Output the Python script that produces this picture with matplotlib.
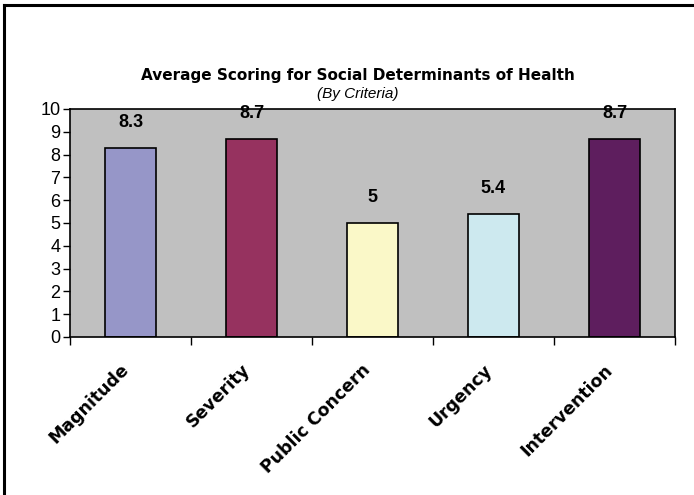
import matplotlib.pyplot as plt
from matplotlib.lines import Line2D

plt.rcParams['font.family'] = ['Liberation Sans', 'DejaVu Sans']

categories = ['Magnitude', 'Severity', 'Public Concern', 'Urgency', 'Intervention']
scores = [8.3, 8.7, 5, 5.4, 8.7]
score_labels = ['8.3', '8.7', '5', '5.4', '8.7']
bar_colors = ['#9696C8', '#96325F', '#FAF8C8', '#CDE9EF', '#5E1E5E']

fig = plt.figure(figsize=(6.94, 4.95), dpi=100)
ax = fig.add_axes([0.1009, 0.3192, 0.8717, 0.4606])
ax.set_facecolor('#C0C0C0')

x = range(len(categories))
ax.bar(x, scores, width=0.42, color=bar_colors, edgecolor='black', linewidth=1.2, zorder=2)

for i, (v, lab) in enumerate(zip(scores, score_labels)):
    ax.text(i, v + 1.1, lab, ha='center', va='center', fontsize=13,
            fontweight='bold', zorder=3)

ax.set_xlim(-0.5, len(categories) - 0.5)
ax.set_ylim(0, 10)
ax.set_yticks(range(0, 11))
ax.tick_params(axis='y', labelsize=13, length=5, width=1, direction='out', pad=2)

# ticks between the categories, labels at the centres
ax.set_xticks([i - 0.5 for i in range(len(categories) + 1)])
ax.set_xticklabels([])
ax.tick_params(axis='x', which='major', length=6, width=1, direction='out')
ax.set_xticks([i - 0.09 for i in x], minor=True)
ax.set_xticklabels(categories, minor=True, rotation=45, ha='right',
                   rotation_mode='anchor', fontsize=12.5, fontweight='bold',
                   family='DejaVu Sans')
ax.tick_params(axis='x', which='minor', length=0, pad=17)

for side in ['left', 'bottom', 'top', 'right']:
    ax.spines[side].set_linewidth(1.2)
    ax.spines[side].set_color('black')

fig.text(0.516, 0.848, 'Average Scoring for Social Determinants of Health',
         ha='center', va='center', fontsize=11, fontweight='bold',
         family='DejaVu Sans')
fig.text(0.516, 0.811, '(By Criteria)', ha='center', va='center',
         fontsize=11, style='italic')

# outer frame (only left and top edges visible)
fig.add_artist(Line2D([0.006, 0.006], [0, 0.99], transform=fig.transFigure,
                      color='black', linewidth=2.2))
fig.add_artist(Line2D([0.006, 1.0], [0.99, 0.99], transform=fig.transFigure,
                      color='black', linewidth=2.2))

fig.savefig('out.png', dpi=100)
